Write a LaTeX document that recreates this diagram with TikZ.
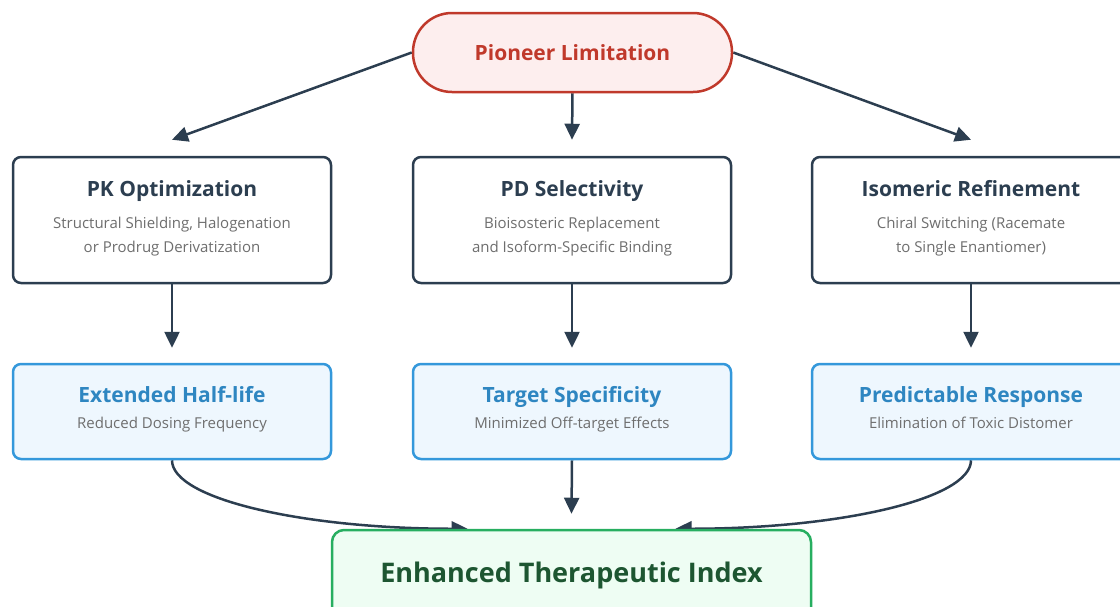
\documentclass[tikz,border=0pt]{standalone}
\usepackage{fontspec}
\setmainfont{Open Sans}
\usetikzlibrary{arrows.meta,backgrounds}

\definecolor{ink}{HTML}{2C3E50}
\definecolor{note}{HTML}{6E6E6E}
\definecolor{pioneer}{HTML}{C0392B}
\definecolor{pioneerbg}{HTML}{FDEEEE}
\definecolor{gainline}{HTML}{3498DB}
\definecolor{gainbg}{HTML}{EEF7FE}
\definecolor{gaintext}{HTML}{2E86C1}
\definecolor{goalline}{HTML}{27AE60}
\definecolor{goalbg}{HTML}{EEFDF3}
\definecolor{goaltext}{HTML}{1D5631}

\newcommand\headfont{\bfseries\fontsize{21}{24}\selectfont}
\newcommand\notefont{\color{note}\fontsize{15}{24}\selectfont\strut}

\tikzset{
  pill/.style={draw=pioneer, fill=pioneerbg, line width=2.5pt, rounded corners=39pt,
    minimum width=319pt, minimum height=79pt, text=pioneer, font=\headfont},
  stage/.style={draw=ink, fill=white, line width=2.5pt, rounded corners=8pt,
    minimum width=318pt, minimum height=126pt, align=center, text=ink,
    font=\fontsize{15}{24}\selectfont},
  gain/.style={draw=gainline, fill=gainbg, line width=2.5pt, rounded corners=8pt,
    minimum width=318pt, minimum height=95pt, align=center, text=gaintext,
    font=\fontsize{15}{24}\selectfont},
  goal/.style={draw=goalline, fill=goalbg, line width=2.5pt, rounded corners=12pt,
    minimum width=479pt, minimum height=90pt, text=goaltext,
    font=\bfseries\fontsize{27}{30}\selectfont},
  link/.style={draw=ink, line width=2.5pt, -{Triangle[length=16pt,width=15pt]}},
}

\begin{document}
\begin{tikzpicture}[x=1pt,y=-1pt]
  \useasboundingbox (0,0) rectangle (1120,606);

  \node[pill] (pioneer) at (572.5,52.5) {Pioneer Limitation};

  \node[stage] (pk) at (172,220)
    {{\headfont PK Optimization}\\[8pt]{\notefont Structural Shielding, Halogenation}\\{\notefont or Prodrug Derivatization}};
  \node[stage] (pd) at (572,220)
    {{\headfont PD Selectivity}\\[8pt]{\notefont Bioisosteric Replacement}\\{\notefont and Isoform-Specific Binding}};
  \node[stage] (iso) at (971,220)
    {{\headfont Isomeric Refinement}\\[8pt]{\notefont Chiral Switching (Racemate}\\{\notefont to Single Enantiomer)}};

  \node[gain] (halflife) at (172,411.5)
    {{\headfont Extended Half-life}\\[2pt]{\notefont Reduced Dosing Frequency}};
  \node[gain] (target) at (572,411.5)
    {{\headfont Target Specificity}\\[2pt]{\notefont Minimized Off-target Effects}};
  \node[gain] (response) at (971,411.5)
    {{\headfont Predictable Response}\\[2pt]{\notefont Elimination of Toxic Distomer}};

  \node[goal] (index) at (571.5,575) {Enhanced Therapeutic Index};

  \begin{scope}[on background layer]
    \draw[link] (pioneer.west) -- ([yshift=16pt]pk.north);
    \draw[link] (pioneer.south) -- ([yshift=16pt]pd.north);
    \draw[link] (pioneer.east) -- ([yshift=16pt]iso.north);

    \draw[link] (pk.south) -- ([yshift=15pt]halflife.north);
    \draw[link] (pd.south) -- ([yshift=15pt]target.north);
    \draw[link] (iso.south) -- ([yshift=15pt]response.north);

    \draw[link] (halflife.south) .. controls +(0,39) and +(-163,0) .. ([xshift=-104pt]index.north);
    \draw[link] (target.south) -- ([yshift=15pt]index.north);
    \draw[link] (response.south) .. controls +(0,39) and +(163,0) .. ([xshift=104pt]index.north);
  \end{scope}
\end{tikzpicture}
\end{document}
